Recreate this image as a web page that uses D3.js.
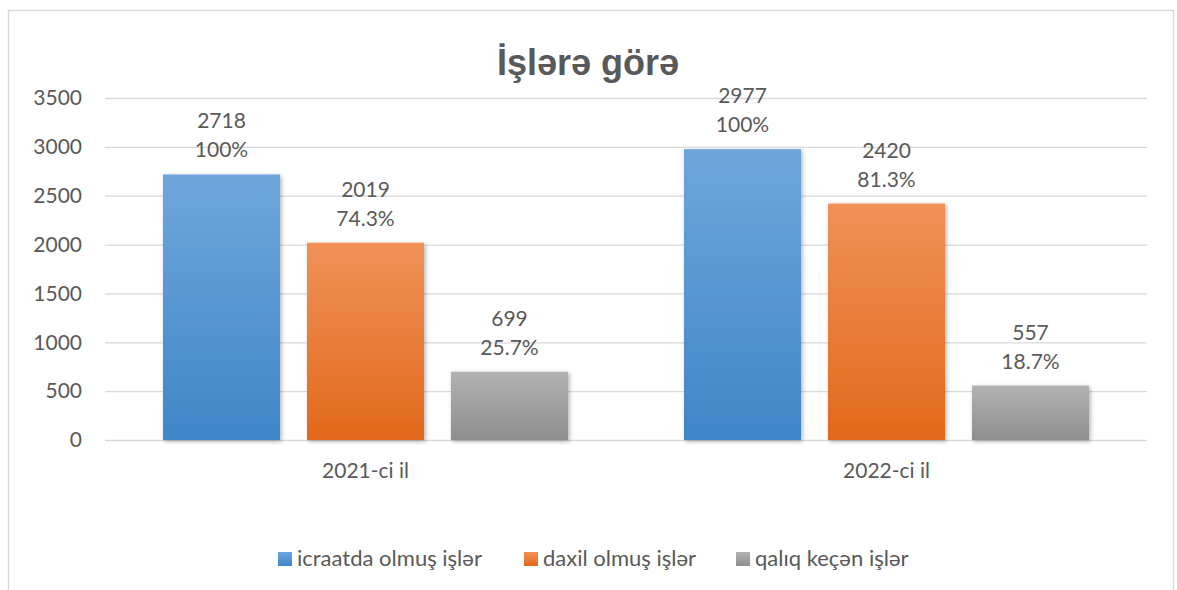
<!DOCTYPE html>
<html><head><meta charset="utf-8">
<script src="https://cdn.jsdelivr.net/npm/d3@7"></script>
<style>body{margin:0;background:#fff}svg{display:block}</style>
</head><body>
<svg id="c" width="1177" height="590"></svg>
<script>
const categories = ["2021-ci il", "2022-ci il"];
const seriesNames = ["icraatda olmuş işlər", "daxil olmuş işlər", "qalıq keçən işlər"];
const values2021 = [2718, 2019, 699];
const values2022 = [2977, 2420, 557];
const percent2021 = ["100%", "74.3%", "25.7%"];
const percent2022 = ["100%", "81.3%", "18.7%"];
const yTicks = [0, 500, 1000, 1500, 2000, 2500, 3000, 3500];
const title = "İşlərə görə";

const allValues = [values2021, values2022];
const allPct = [percent2021, percent2022];

(function(){
const svg = d3.select("#c");
const font = "Lato, 'Open Sans', sans-serif";
const txt = "#595959";
const fs = "21px";

const grads = [["#6fa6dc","#3f86c8"],["#f09158","#e2691a"],["#b2b2b2","#8e8e8e"]];
const defs = svg.append("defs");
grads.forEach((g,i)=>{
  const lg = defs.append("linearGradient").attr("id","g"+i).attr("x1",0).attr("y1",0).attr("x2",0).attr("y2",1);
  lg.append("stop").attr("offset","0%").attr("stop-color",g[0]);
  lg.append("stop").attr("offset","100%").attr("stop-color",g[1]);
});
const f = defs.append("filter").attr("id","sh").attr("x","-10%").attr("y","-10%").attr("width","130%").attr("height","130%");
f.append("feDropShadow").attr("dx",1.5).attr("dy",1.5).attr("stdDeviation",2).attr("flood-color","#000").attr("flood-opacity",0.3);

svg.append("path").attr("d","M8.5,590 V10.5 H1173.5 V590").attr("fill","none").attr("stroke","#d9d9d9").attr("stroke-width",1.5);

const pLeft = 105, pRight = 1147, pTop = 98, pBottom = 440;
const y = d3.scaleLinear().domain([0,3500]).range([pBottom, pTop]);
const xc = d3.scaleBand().domain(categories).range([pLeft,pRight]).padding(0);
const step = xc.step();
const groupW = 405;
const inner = d3.scaleBand().domain(seriesNames).range([(step-groupW)/2, (step+groupW)/2]).paddingInner(27/144).paddingOuter(0);

const yAxis = d3.axisLeft(y).tickValues(yTicks).tickSize(-(pRight-pLeft)).tickPadding(20).tickFormat(d3.format("d"));
const ga = svg.append("g").attr("transform",`translate(${pLeft},0)`).call(yAxis);
ga.select(".domain").remove();
ga.selectAll(".tick line").attr("stroke","#d9d9d9").attr("stroke-width",1.3);
ga.selectAll(".tick text").attr("fill",txt).style("font-family",font).style("font-size",fs).attr("x",-23);

categories.forEach((cat,ci)=>{
  const g = svg.append("g").attr("transform",`translate(${xc(cat)},0)`);
  const data = seriesNames.map((s,si)=>({s,si,v:allValues[ci][si],p:allPct[ci][si]}));
  g.selectAll("rect").data(data).join("rect")
    .attr("x",d=>inner(d.s)).attr("width",inner.bandwidth())
    .attr("y",d=>y(d.v)).attr("height",d=>pBottom-y(d.v))
    .attr("fill",d=>`url(#g${d.si})`).attr("filter","url(#sh)");
  g.selectAll("text.v").data(data).join("text").attr("class","v")
    .attr("x",d=>inner(d.s)+inner.bandwidth()/2).attr("y",d=>y(d.v)-46)
    .attr("text-anchor","middle").attr("fill",txt).style("font-family",font).style("font-size",fs)
    .text(d=>d.v);
  g.selectAll("text.p").data(data).join("text").attr("class","p")
    .attr("x",d=>inner(d.s)+inner.bandwidth()/2).attr("y",d=>y(d.v)-17)
    .attr("text-anchor","middle").attr("fill",txt).style("font-family",font).style("font-size",fs)
    .text(d=>d.p);
});

const xAxis = d3.axisBottom(xc).tickSize(0).tickPadding(23);
const gx = svg.append("g").attr("transform",`translate(0,${pBottom})`).call(xAxis);
gx.select(".domain").remove();
gx.selectAll("text").attr("fill",txt).style("font-family",font).style("font-size",fs);

svg.append("text").attr("x",588).attr("y",75).attr("text-anchor","middle")
  .attr("fill","#595959").style("font-family","'Liberation Sans', Arial, sans-serif").style("font-weight","bold").style("font-size","36px")
  .text(title);

const legX = [278, 524, 736];
const lg = svg.append("g");
seriesNames.forEach((s,i)=>{
  lg.append("rect").attr("x",legX[i]).attr("y",552).attr("width",14).attr("height",14).attr("fill",`url(#g${i})`);
  lg.append("text").attr("x",legX[i]+19).attr("y",566).attr("fill",txt).style("font-family",font).style("font-size","22px").text(s);
});
})();
</script>
</body></html>
